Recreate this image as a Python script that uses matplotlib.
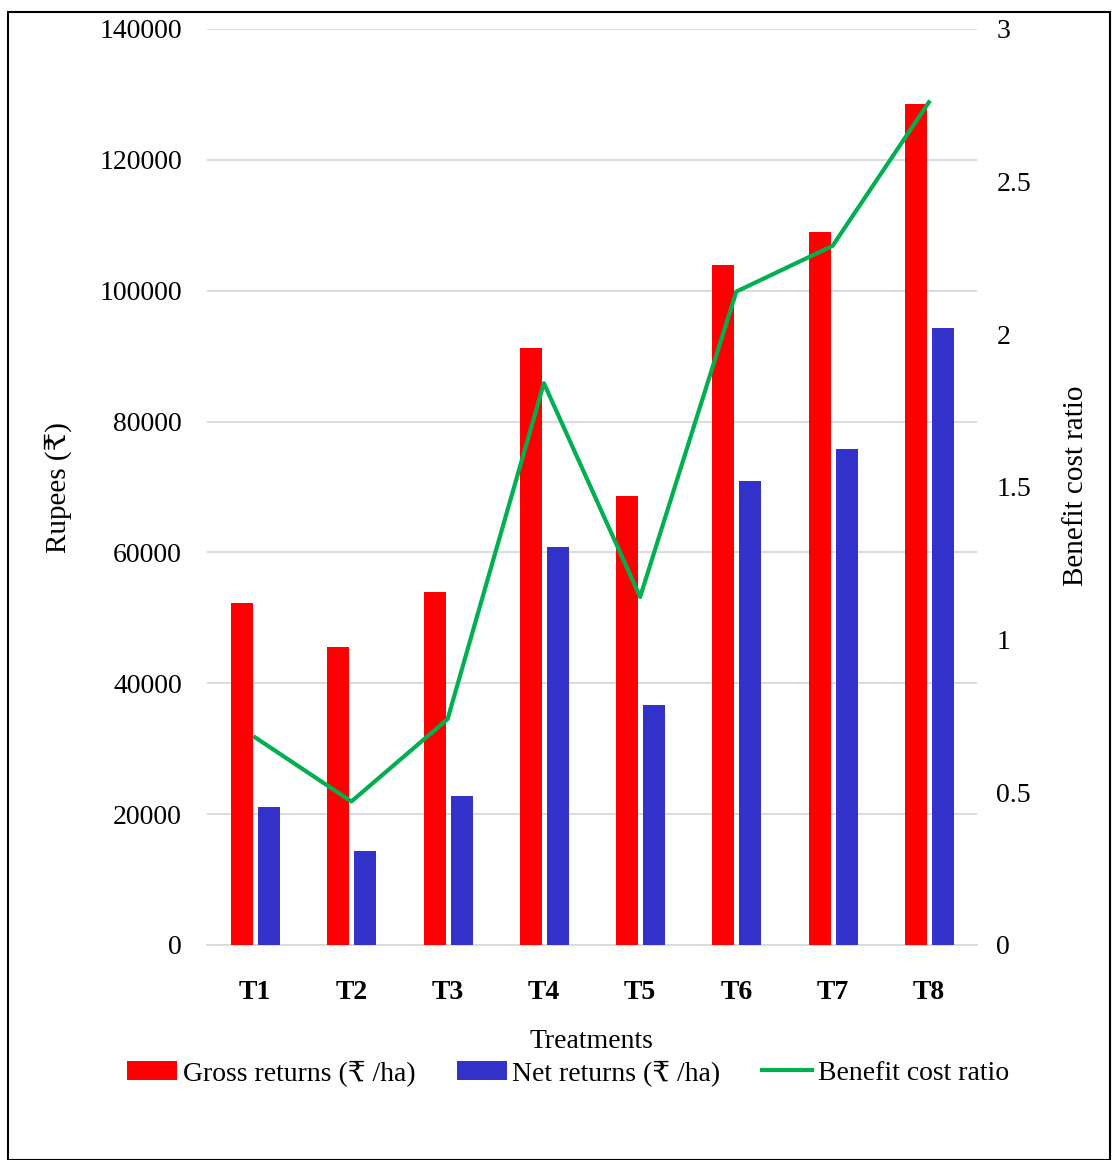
import numpy as np
import matplotlib.pyplot as plt
from matplotlib.patches import Rectangle

plt.rcParams['font.family'] = ['Liberation Serif', 'DejaVu Serif', 'DejaVu Sans']

treatments = ['T1', 'T2', 'T3', 'T4', 'T5', 'T6', 'T7', 'T8']
gross = [52200, 45500, 53900, 91300, 68600, 103900, 109000, 128500]  # Валовой доход
net = [21100, 14400, 22800, 60800, 36700, 70900, 75800, 94300]  # Чистый доход
bcr = [0.68, 0.47, 0.74, 1.84, 1.14, 2.14, 2.29, 2.76]  # Коэффициент выгоды/затрат

fig = plt.figure(figsize=(11.12, 11.6), dpi=100)
ax = fig.add_axes([207 / 1112, 1 - 945 / 1160, 770 / 1112, 916 / 1160])
ax2 = ax.twinx()

x = np.arange(len(treatments))
w = 0.23
ax.bar(x - 0.135, gross, w, color='#FF0000', label='Gross returns (₹ /ha)', zorder=3)
ax.bar(x + 0.145, net, w, color='#3333CC', label='Net returns (₹ /ha)', zorder=3)
ax2.plot(x, bcr, color='#00B050', lw=3.0, label='Benefit cost ratio', zorder=4)

ax.set_xlim(-0.5, len(treatments) - 0.5)
ax.set_ylim(0, 140000)
ax.set_yticks(np.arange(0, 140001, 20000))
ax2.set_ylim(0, 3)
ax2.set_yticks([0, 0.5, 1, 1.5, 2, 2.5, 3])
ax2.set_yticklabels(['0', '0.5', '1', '1.5', '2', '2.5', '3'])

ax.grid(axis='y', color='#D9D9D9', lw=1.3, zorder=0)
for a in (ax, ax2):
    for s in a.spines.values():
        s.set_visible(False)
ax.spines['bottom'].set_visible(True)
ax.spines['bottom'].set_color('#D9D9D9')
ax.spines['bottom'].set_linewidth(1.3)

ax.set_xticks(x)
ax.set_xticklabels(treatments, fontsize=20, fontweight='bold')
ax.tick_params(axis='x', length=0, pad=25)
ax.tick_params(axis='y', length=0, pad=18, labelsize=20)
ax2.tick_params(axis='y', length=0, pad=14, labelsize=20)

fig.text(58 / 1112, 1 - 488 / 1160, 'Rupees (₹)', fontsize=21, rotation=90,
         ha='center', va='center')
fig.text(1076 / 1112, 1 - 486 / 1160, 'Benefit cost ratio', fontsize=21, rotation=90,
         ha='center', va='center')
fig.text(591 / 1112, 1 - 1041 / 1160, 'Treatments', fontsize=20, ha='center', va='center')

h1, l1 = ax.get_legend_handles_labels()
h2, l2 = ax2.get_legend_handles_labels()
fig.legend(h1 + h2, l1 + l2, loc='center', bbox_to_anchor=(568 / 1112, 1 - 1073 / 1160),
           ncol=3, frameon=False, fontsize=20, handlelength=1.8, handletextpad=0.2,
           columnspacing=1.5, borderpad=0.2)

# рамка вокруг рисунка
fig.patches.append(Rectangle((8 / 1112, 0), 1102 / 1112, 1 - 12 / 1160, transform=fig.transFigure,
                             fill=False, edgecolor='black', lw=1.5))

fig.savefig('out.png', dpi=100)
